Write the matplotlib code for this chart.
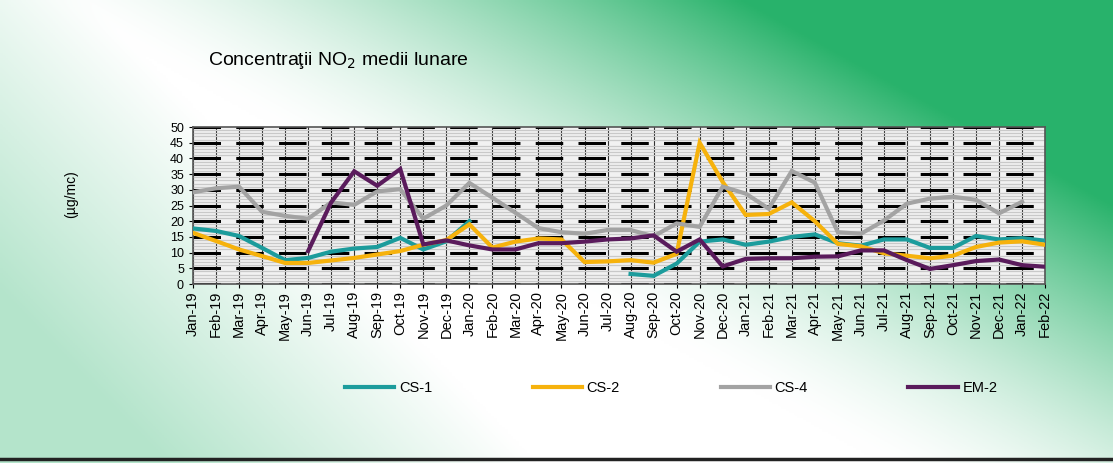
#needed libraries
import numpy as np
import matplotlib
matplotlib.use("Agg")
import matplotlib.pyplot as plt

plt.rcParams['font.family'] = ['Liberation Sans', 'DejaVu Sans']

#months Jan-19 .. Feb-22
months = ["Jan-19", "Feb-19", "Mar-19", "Apr-19", "May-19", "Jun-19", "Jul-19", "Aug-19",
          "Sep-19", "Oct-19", "Nov-19", "Dec-19", "Jan-20", "Feb-20", "Mar-20", "Apr-20",
          "May-20", "Jun-20", "Jul-20", "Aug-20", "Sep-20", "Oct-20", "Nov-20", "Dec-20",
          "Jan-21", "Feb-21", "Mar-21", "Apr-21", "May-21", "Jun-21", "Jul-21", "Aug-21",
          "Sep-21", "Oct-21", "Nov-21", "Dec-21", "Jan-22", "Feb-22"]

nan = np.nan
# monthly NO2 means (ug/mc)
cs1 = [17.7, 16.9, 15.3, 11.5, 7.6, 8.3, 10.3, 11.3, 11.8, 14.7, 11.0, 13.6,
       20.0, nan, nan, nan, nan, nan, nan, 3.2, 2.6, 6.5, 13.5, 14.2,
       12.5, 13.5, 15.0, 15.8, 13.0, 12.2, 14.2, 14.2, 11.5, 11.5, 15.3, 14.2,
       14.6, 13.8]
cs2 = [16.3, 13.7, 11.0, 8.9, 6.7, 6.7, 7.5, 8.3, 9.4, 10.5, 12.5, 14.0,
       19.0, 11.6, 13.5, 14.5, 14.2, 7.0, 7.2, 7.6, 6.8, 9.6, 45.0, 32.5,
       22.0, 22.3, 26.0, 20.0, 12.8, 12.0, 9.8, 9.0, 8.2, 9.0, 11.8, 13.2,
       13.6, 12.5]
cs4 = [29.2, 30.5, 31.0, 23.0, 21.7, 20.8, 26.0, 25.2, 29.5, 30.2, 20.8, 25.0,
       32.2, 27.5, 22.7, 17.8, 16.5, 16.0, 17.2, 17.2, 15.2, 19.3, 18.2, 31.0,
       28.8, 24.0, 36.0, 32.3, 16.5, 16.0, 20.2, 25.6, 27.2, 27.8, 26.8, 22.5,
       26.2, nan]
em2 = [nan, nan, nan, nan, nan, 10.5, 26.0, 35.9, 31.3, 36.6, 12.6, 13.9,
       12.3, 11.0, 11.0, 13.0, 13.0, 13.5, 14.2, 14.5, 15.5, 10.3, 14.2, 5.6,
       8.0, 8.2, 8.2, 8.7, 8.8, 10.7, 10.7, 7.6, 4.8, 6.0, 7.3, 7.8,
       6.0, 5.5]

series = [("CS-1", cs1, "#1c9c9c"), ("CS-2", cs2, "#f6b20c"),
          ("CS-4", cs4, "#a3a3a3"), ("EM-2", em2, "#5a1b5c")]

fig = plt.figure(figsize=(11.13, 4.63), dpi=100)

# scanned page background: green wash top right, faint green bottom left
bg = fig.add_axes([0, 0, 1, 1], zorder=-10)
xx, yy = np.meshgrid(np.linspace(0, 1, 400), np.linspace(0, 1, 200))
w1 = np.clip(1.6 * (xx - 0.45) + 1.2 * (1 - yy) - 0.55, 0, 1) ** 1.5
w2 = np.clip(0.9 - 3.0 * xx + 1.2 * (yy - 0.55), 0, 1) * 0.35
w = np.clip(w1 + w2, 0, 1)
green = np.array([0.16, 0.70, 0.42])
img = (1 - w[..., None]) * np.ones(3) + w[..., None] * green
bg.imshow(img, aspect="auto", extent=[0, 1, 0, 1], origin="upper")
bg.axhline(0.008, color="#222222", lw=2.5)
bg.set_xlim(0, 1)
bg.set_ylim(0, 1)
bg.axis("off")

ax = fig.add_axes([0.1734, 0.3866, 0.7656, 0.339])
ax.set_facecolor("#f1f1f1")
x = np.arange(len(months))

for name, vals, col in series:
    ax.plot(x, vals, color=col, lw=3, label=name, solid_joinstyle="miter", zorder=3)

ax.set_xlim(0, len(months) - 1)
ax.set_ylim(0, 50)
ax.set_yticks(np.arange(0, 51, 5))
ax.set_yticks(np.arange(0, 50, 1), minor=True)
ax.set_xticks(x)
ax.set_xticklabels(months, rotation=90, fontsize=10.5)
ax.tick_params(axis="y", labelsize=9, length=3, which="major")
ax.tick_params(axis="y", which="minor", length=0)
ax.tick_params(axis="x", length=3, pad=2)

ax.grid(axis="y", which="minor", color="#c9c9c9", lw=0.9, zorder=0)
ax.grid(axis="y", which="major", color="black", lw=2.2, dashes=(9, 5), zorder=1)
ax.grid(axis="x", which="major", color="#333333", lw=0.8, zorder=1)
for s in ax.spines.values():
    s.set_color("#555555")
    s.set_linewidth(1.2)

fig.text(0.187, 0.86, "Concentraţii NO$_2$ medii lunare", fontsize=14)
fig.text(0.058, 0.58, "(µg/mc)", rotation=90, fontsize=10, va="center")

fig.legend(loc="center", bbox_to_anchor=(0.603, 0.162), ncol=4, frameon=False,
           fontsize=10.5, handlelength=3.4, columnspacing=6.9, handletextpad=0.3)

plt.savefig("out.png", dpi=100)
